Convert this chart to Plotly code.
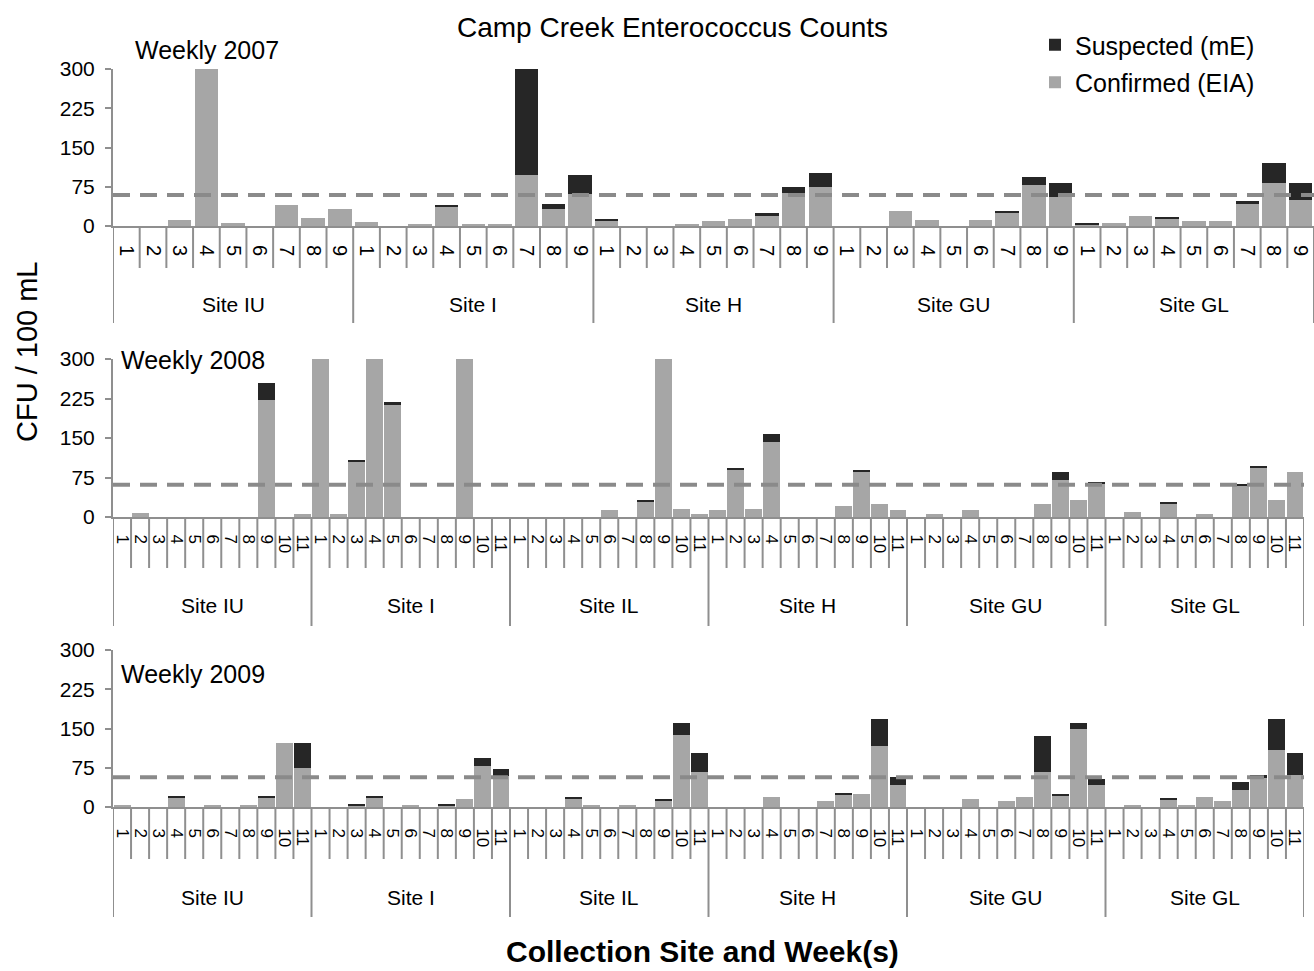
import plotly.graph_objects as go

# ---------------- data ----------------
years = ["Weekly 2007", "Weekly 2008", "Weekly 2009"]

sites_2007 = ["Site IU", "Site I", "Site H", "Site GU", "Site GL"]
weeks_2007 = [str(w) for w in range(1, 10)]
confirmed_2007 = [
    0, 0, 12, 300, 5, 0, 40, 16, 32,      # IU
    8, 0, 4, 37, 4, 4, 97, 32, 62,        # I
    10, 0, 0, 4, 9, 13, 20, 63, 75,       # H
    0, 0, 28, 12, 0, 12, 24, 78, 56,      # GU
    3, 5, 20, 13, 9, 9, 43, 82, 50,       # GL
]
suspected_2007 = [
    0, 0, 0, 0, 0, 0, 0, 0, 0,
    0, 0, 0, 3, 0, 0, 203, 11, 35,
    3, 0, 0, 0, 0, 0, 5, 12, 27,
    0, 0, 0, 0, 0, 0, 4, 16, 26,
    2, 0, 0, 4, 0, 0, 4, 39, 32,
]

sites_2008 = ["Site IU", "Site I", "Site IL", "Site H", "Site GU", "Site GL"]
weeks_2008 = [str(w) for w in range(1, 12)]
confirmed_2008 = [
    0, 8, 0, 0, 0, 0, 0, 0, 223, 0, 5,        # IU
    300, 5, 106, 300, 212, 0, 0, 0, 300, 0, 0, # I
    0, 0, 0, 0, 0, 13, 0, 29, 300, 16, 5,     # IL
    13, 90, 16, 143, 0, 0, 0, 21, 86, 25, 13, # H
    0, 5, 0, 13, 0, 0, 0, 25, 71, 32, 63,     # GU
    0, 9, 0, 25, 0, 5, 0, 60, 94, 32, 85,     # GL
]
suspected_2008 = [
    0, 0, 0, 0, 0, 0, 0, 0, 31, 0, 0,
    0, 0, 3, 0, 7, 0, 0, 0, 0, 0, 0,
    0, 0, 0, 0, 0, 0, 0, 3, 0, 0, 0,
    0, 3, 0, 15, 0, 0, 0, 0, 3, 0, 0,
    0, 0, 0, 0, 0, 0, 0, 0, 14, 0, 3,
    0, 0, 0, 3, 0, 0, 0, 2, 3, 0, 0,
]

sites_2009 = ["Site IU", "Site I", "Site IL", "Site H", "Site GU", "Site GL"]
weeks_2009 = [str(w) for w in range(1, 12)]
confirmed_2009 = [
    4, 0, 0, 18, 0, 4, 0, 4, 18, 123, 75,     # IU
    0, 0, 3, 18, 0, 4, 0, 3, 16, 78, 59,      # I
    0, 0, 0, 17, 4, 0, 4, 0, 13, 138, 66,     # IL
    0, 0, 0, 20, 0, 0, 12, 24, 24, 116, 43,   # H
    0, 0, 0, 16, 0, 12, 20, 66, 22, 150, 43,  # GU
    0, 4, 0, 14, 4, 20, 12, 32, 56, 108, 62,  # GL
]
suspected_2009 = [
    0, 0, 0, 2, 0, 0, 0, 0, 3, 0, 48,
    0, 0, 2, 2, 0, 0, 0, 2, 0, 15, 14,
    0, 0, 0, 3, 0, 0, 0, 0, 2, 23, 38,
    0, 0, 0, 0, 0, 0, 0, 3, 0, 53, 14,
    0, 0, 0, 0, 0, 0, 0, 69, 2, 11, 11,
    0, 0, 0, 3, 0, 0, 0, 15, 6, 61, 42,
]

threshold = [59, 61, 57]
y_ticks = [0, 75, 150, 225, 300]

# ---------------- layout geometry (pixels) ----------------
W, H = 1314, 971
LEFT = 113
PW = W - LEFT


def py(y):
    return (H - y) / H


def pxf(x):
    return (x - LEFT) / PW


panels = [
    dict(sites=sites_2007, weeks=weeks_2007, conf=confirmed_2007, susp=suspected_2007,
         top=69, base=226, right=1314, wk_len=42, site_len=97, site_y=304,
         label=years[0], lab_x=133, lab_y=50, tick_size=20, standoff=13, bw=0.88),
    dict(sites=sites_2008, weeks=weeks_2008, conf=confirmed_2008, susp=suspected_2008,
         top=359, base=517, right=1304, wk_len=51, site_len=109, site_y=605,
         label=years[1], lab_x=119, lab_y=360, tick_size=17, standoff=12, bw=0.94),
    dict(sites=sites_2009, weeks=weeks_2009, conf=confirmed_2009, susp=suspected_2009,
         top=650, base=807, right=1304, wk_len=52, site_len=110, site_y=897,
         label=years[2], lab_x=119, lab_y=674, tick_size=17, standoff=16, bw=0.94),
]

CONF_COLOR = "#a6a6a6"
SUSP_COLOR = "#262626"
LINE_COLOR = "#8f8f8f"
FONT = "Liberation Sans, Arial, sans-serif"

fig = go.Figure()
shapes = []
annotations = []
layout_axes = {}

for i, p in enumerate(panels):
    k = "" if i == 0 else str(i + 1)
    xa, ya = "x" + k, "y" + k
    nw = len(p["weeks"])
    n = len(p["sites"]) * nw
    xs = list(range(n))
    ticktext = p["weeks"] * len(p["sites"])

    fig.add_trace(go.Bar(
        x=xs, y=p["conf"], xaxis=xa, yaxis=ya, width=p["bw"],
        marker=dict(color=CONF_COLOR, line=dict(width=0)),
        name="Confirmed (EIA)", showlegend=(i == 0), legendgroup="conf",
        legendrank=2,
    ))
    fig.add_trace(go.Bar(
        x=xs, y=p["susp"], xaxis=xa, yaxis=ya, width=p["bw"],
        marker=dict(color=SUSP_COLOR, line=dict(width=0)),
        name="Suspected (mE)", showlegend=(i == 0), legendgroup="susp",
        legendrank=1,
    ))

    layout_axes["xaxis" + k] = dict(
        domain=[0, pxf(p["right"])], anchor=ya, range=[-0.5, n - 0.5],
        tickmode="array", tickvals=xs, ticktext=ticktext, tickangle=90,
        tickfont=dict(size=p["tick_size"], color="black", family=FONT),
        ticklabelstandoff=p["standoff"],
        showline=True, linecolor=LINE_COLOR, linewidth=2,
        ticks="", showgrid=False, zeroline=False, automargin=False,
    )
    layout_axes["yaxis" + k] = dict(
        domain=[py(p["base"]), py(p["top"])], anchor=xa, range=[0, 300],
        tickmode="array", tickvals=y_ticks,
        tickfont=dict(size=21, color="black", family=FONT),
        showline=True, linecolor=LINE_COLOR, linewidth=2,
        ticks="outside", ticklen=6, tickcolor=LINE_COLOR, tickwidth=2,
        ticklabelstandoff=6,
        showgrid=False, zeroline=False, automargin=False,
    )

    # dashed threshold line
    shapes.append(dict(type="line", xref=xa + " domain", yref=ya,
                       x0=0, x1=1, y0=threshold[i], y1=threshold[i],
                       line=dict(color="#8a8a8a", width=4, dash="17px,10px"),
                       layer="above"))

    # category separators
    for b in range(n + 1):
        is_site = (b % nw == 0)
        length = p["site_len"] if is_site else p["wk_len"]
        shapes.append(dict(type="line", xref=xa, yref="paper",
                           x0=b - 0.5, x1=b - 0.5,
                           y0=py(p["base"]), y1=py(p["base"] + length),
                           line=dict(color=LINE_COLOR, width=2)))

    # site labels
    for s, site in enumerate(p["sites"]):
        annotations.append(dict(text=site, xref=xa, yref="paper",
                                x=s * nw + (nw - 1) / 2, y=py(p["site_y"]),
                                showarrow=False, yanchor="middle",
                                font=dict(size=21, color="black", family=FONT)))

    # panel label
    annotations.append(dict(text=p["label"], xref="paper", yref="paper",
                            x=pxf(p["lab_x"]), y=py(p["lab_y"]),
                            xanchor="left", yanchor="middle", showarrow=False,
                            font=dict(size=25, color="black", family=FONT)))

# title and axis titles
annotations.append(dict(text="Camp Creek Enterococcus Counts", xref="paper", yref="paper",
                        x=pxf(672), y=py(27), showarrow=False, yanchor="middle",
                        font=dict(size=28, color="black", family=FONT)))
annotations.append(dict(text="CFU / 100 mL", xref="paper", yref="paper",
                        x=pxf(27), y=py(352), showarrow=False, textangle=-90,
                        xanchor="center", yanchor="middle",
                        font=dict(size=29, color="black", family=FONT)))
annotations.append(dict(text="<b>Collection Site and Week(s)</b>", xref="paper", yref="paper",
                        x=pxf(702), y=py(951), showarrow=False, yanchor="middle",
                        font=dict(size=30, color="black", family=FONT)))

fig.update_layout(
    width=W, height=H,
    margin=dict(l=LEFT, r=0, t=0, b=0),
    barmode="stack",
    plot_bgcolor="white", paper_bgcolor="white",
    font=dict(family=FONT, color="black"),
    showlegend=True,
    legend=dict(x=pxf(1035), y=py(22), xanchor="left", yanchor="top",
                traceorder="grouped", tracegroupgap=2,
                font=dict(size=25, color="black", family=FONT),
                bgcolor="rgba(0,0,0,0)", itemwidth=30),
    shapes=shapes, annotations=annotations,
    **layout_axes,
)

fig.write_html("out.html", config={"displayModeBar": False},
               post_script="document.body.style.margin='0';document.body.style.overflow='hidden';")
